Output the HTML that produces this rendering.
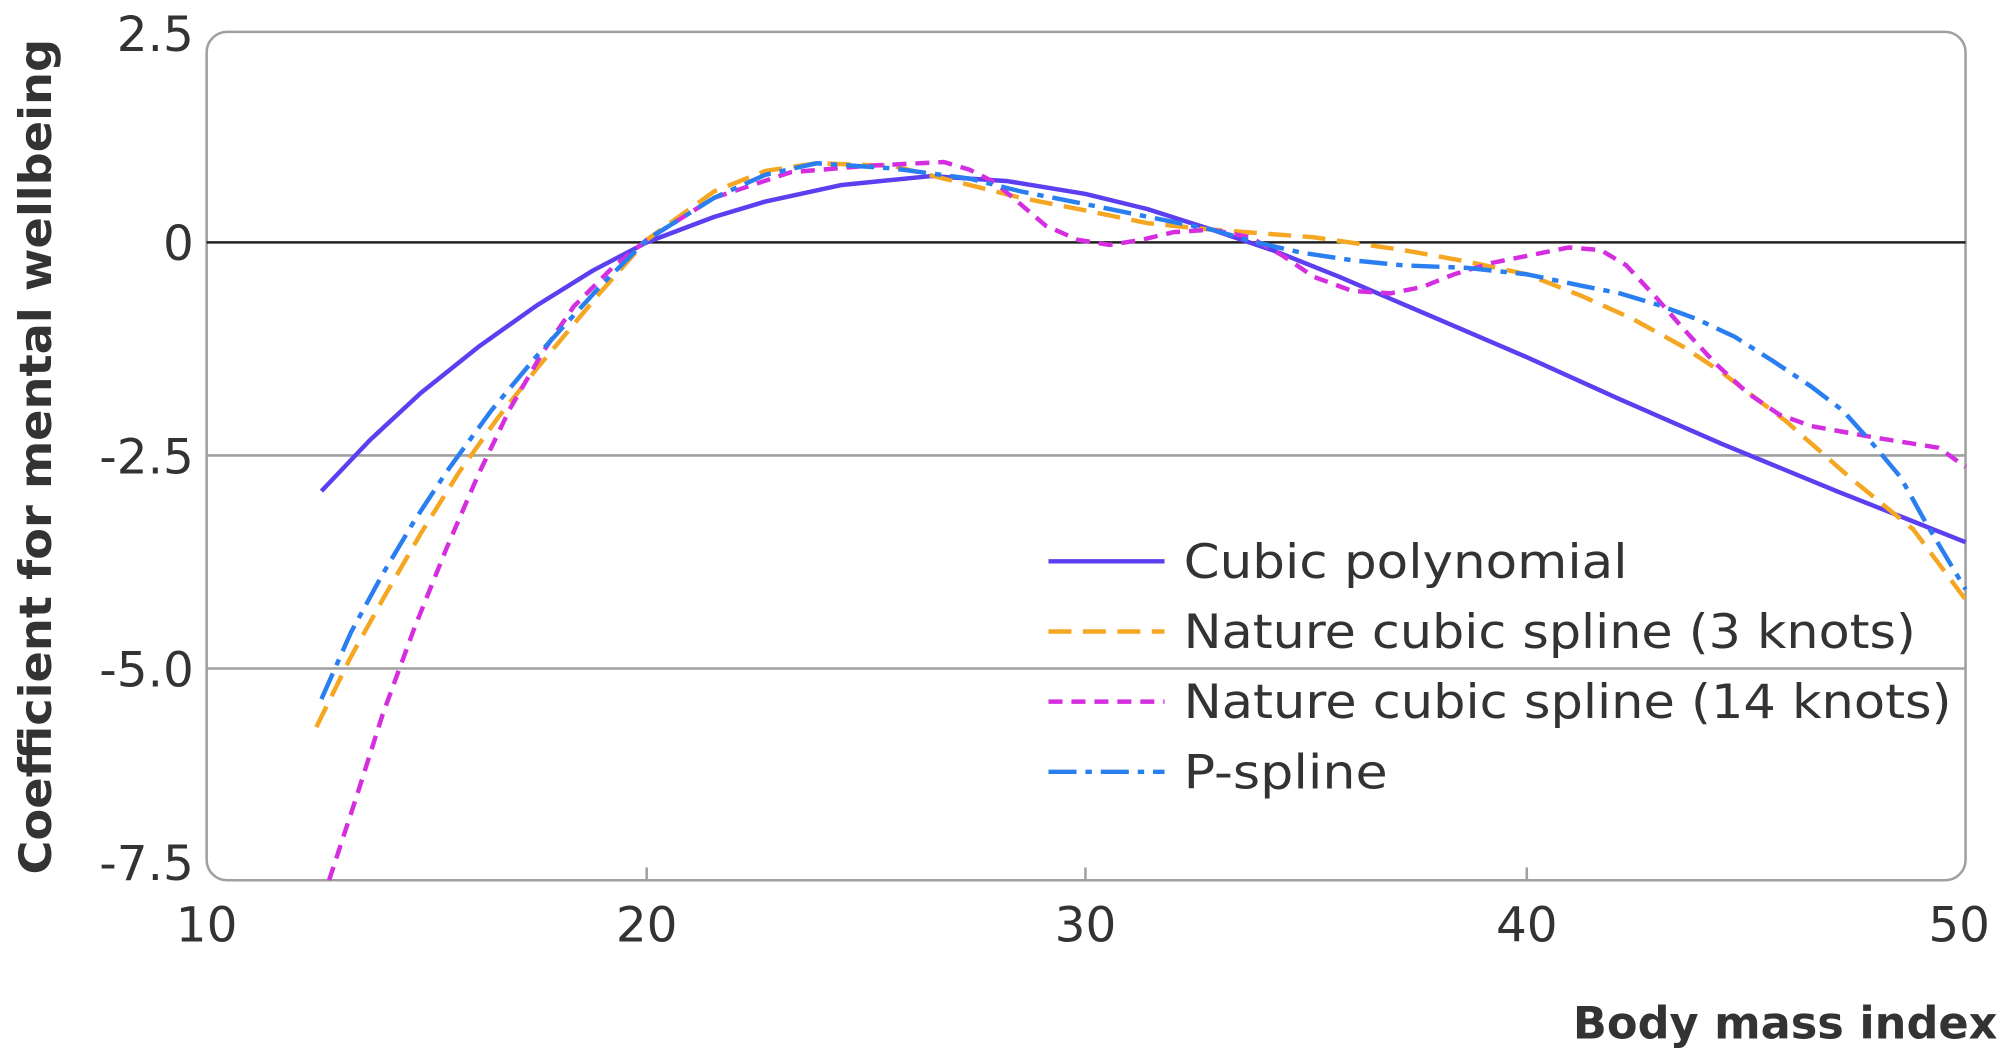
<!DOCTYPE html>
<html><head><meta charset="utf-8"><style>
html,body{margin:0;padding:0;background:#fff;}
svg{display:block;}
text{font-family:"DejaVu Sans","Liberation Sans",sans-serif;fill:#333;}
</style></head><body>
<svg width="2000" height="1055" viewBox="0 0 1568 827" preserveAspectRatio="none">
<rect x="162" y="25" width="1379" height="665" rx="16" fill="none" stroke="#a0a0a0" stroke-width="2"/>
<line x1="162" y1="190" x2="1541" y2="190" stroke="#222" stroke-width="2"/>
<line x1="162" y1="357" x2="1541" y2="357" stroke="#a0a0a0" stroke-width="2"/>
<line x1="162" y1="524" x2="1541" y2="524" stroke="#a0a0a0" stroke-width="2"/>
<g stroke="#a0a0a0" stroke-width="2"><line x1="507" y1="680" x2="507" y2="690"/><line x1="851" y1="680" x2="851" y2="690"/><line x1="1197" y1="680" x2="1197" y2="690"/></g>
<g font-size="38" text-anchor="end">
<text x="152" y="40">2.5</text><text x="152" y="204">0</text><text x="152" y="371">-2.5</text><text x="152" y="538">-5.0</text><text x="152" y="690">-7.5</text>
</g>
<g font-size="38" text-anchor="middle">
<text x="162" y="738">10</text><text x="507" y="738">20</text><text x="851" y="738">30</text><text x="1197" y="738">40</text><text x="1536" y="738">50</text>
</g>
<text x="1566" y="814" font-size="35" font-weight="bold" text-anchor="end" fill="#222">Body mass index</text>
<text transform="translate(40,358) rotate(-90)" font-size="35" font-weight="bold" text-anchor="middle" fill="#222" textLength="655" lengthAdjust="spacingAndGlyphs">Coefficient for mental wellbeing</text>
<g fill="none" stroke-linejoin="round" stroke-width="3.5">
<polyline stroke="#5b3ff0" points="252,385 290,345 330,308 375,272 420,240 465,212 507,190 560,170 600,158 660,145 730,138 790,142 851,152 900,164 950,180 1000,197 1050,217 1120,247 1197,280 1270,313 1350,348 1440,385 1541,425"/>
<polyline stroke="#f5a623" stroke-dasharray="18,9" points="248,570 275,515 300,470 330,418 360,370 390,328 420,290 470,230 507,188 560,150 600,134 640,128 700,130 760,145 800,155 851,165 900,175 950,180 1030,186 1100,196 1150,205 1197,215 1240,232 1280,250 1320,272 1350,292 1400,330 1450,374 1500,415 1541,470"/>
<polyline stroke="#d52ee0" stroke-dasharray="11,7" points="258,690 280,623 300,560 325,492 350,430 375,372 400,320 425,277 450,240 480,210 507,188 560,155 620,135 680,130 740,127 760,133 780,143 800,160 820,177 845,188 870,192 895,188 920,182 950,180 980,186 1005,200 1030,217 1060,228 1090,230 1115,225 1140,215 1170,206 1200,200 1230,194 1255,196 1275,208 1300,235 1320,258 1345,285 1370,308 1395,325 1420,334 1470,343 1520,351 1541,366"/>
<polyline stroke="#2a7ff0" stroke-dasharray="22,7,5,7" points="252,548 275,496 300,450 325,408 350,370 385,322 420,280 470,225 507,188 560,155 600,137 640,128 700,132 760,140 800,150 851,160 900,170 950,180 985,190 1020,198 1060,204 1100,208 1150,210 1197,215 1240,224 1270,230 1300,239 1330,250 1360,264 1390,283 1420,303 1445,322 1470,350 1490,374 1510,410 1541,462"/>
</g>
<g stroke-width="3.5" fill="none">
<line x1="822" y1="440" x2="913" y2="440" stroke="#5b3ff0"/>
<line x1="822" y1="495" x2="913" y2="495" stroke="#f5a623" stroke-dasharray="18,9"/>
<line x1="822" y1="550" x2="913" y2="550" stroke="#d52ee0" stroke-dasharray="11,7"/>
<line x1="822" y1="605" x2="913" y2="605" stroke="#2a7ff0" stroke-dasharray="22,7,5,7"/>
</g>
<g font-size="37">
<text x="928" y="453" textLength="348" lengthAdjust="spacingAndGlyphs">Cubic polynomial</text>
<text x="928" y="508" textLength="574" lengthAdjust="spacingAndGlyphs">Nature cubic spline (3 knots)</text>
<text x="928" y="563" textLength="602" lengthAdjust="spacingAndGlyphs">Nature cubic spline (14 knots)</text>
<text x="928" y="618" textLength="160" lengthAdjust="spacingAndGlyphs">P-spline</text>
</g>
</svg>
</body></html>
